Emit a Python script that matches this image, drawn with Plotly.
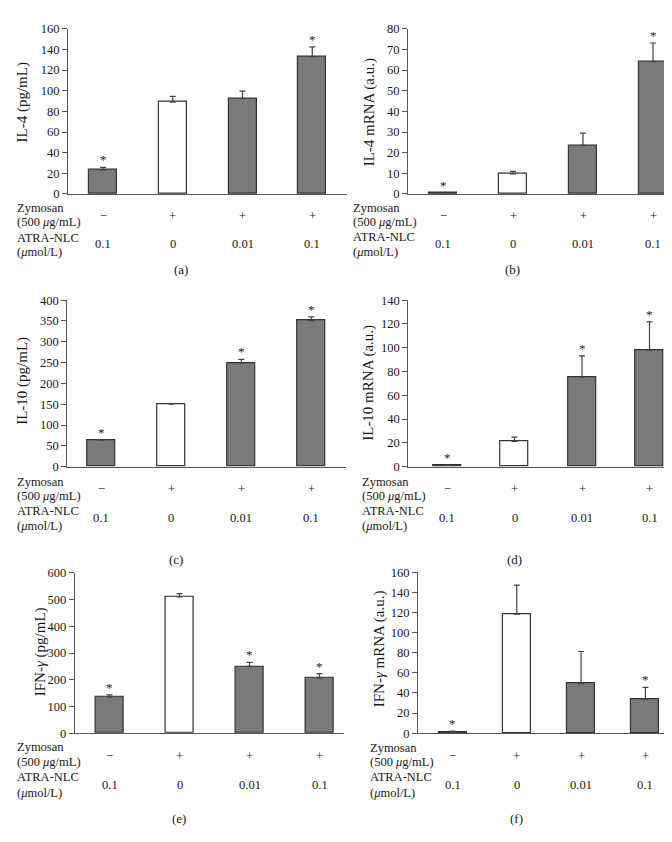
import plotly.graph_objects as go

# ---------------- data ----------------
zymosan_labels = ["\u2212", "+", "+", "+"]
atra_labels = ["0.1", "0", "0.01", "0.1"]
bar_colors = ["#7a7a7a", "#ffffff", "#7a7a7a", "#7a7a7a"]

il4_pg = [23.0, 89.0, 92.4, 132.7]
il4_pg_err = [2.7, 5.6, 7.3, 9.8]
il4_pg_star = [True, False, False, True]

il4_mrna = [0.5, 9.7, 23.5, 64.1]
il4_mrna_err = [0.2, 1.2, 6.0, 9.0]
il4_mrna_star = [True, False, False, True]

il10_pg = [64.5, 150.0, 249.5, 351.0]
il10_pg_err = [0.0, 1.5, 8.5, 9.0]
il10_pg_star = [True, False, True, True]

il10_mrna = [1.0, 21.2, 75.3, 97.8]
il10_mrna_err = [0.3, 3.6, 17.8, 24.0]
il10_mrna_star = [True, False, True, True]

ifn_pg = [134.7, 510.0, 250.0, 206.0]
ifn_pg_err = [8.8, 12.6, 15.0, 17.0]
ifn_pg_star = [True, False, True, True]

ifn_mrna = [1.0, 118.3, 49.2, 33.8]
ifn_mrna_err = [1.0, 29.0, 32.0, 11.8]
ifn_mrna_star = [True, False, False, True]

W, H = 672, 842
FONT = "Liberation Serif"
TXT = "#1a1718"
AX = "#555555"

def px(x):
    return x / W

def py(y):
    return 1 - y / H

panels = [
    dict(title="IL-4 (pg/mL)", v=il4_pg, e=il4_pg_err, s=il4_pg_star, ymax=160, dt=20, cap="(a)",
         xl=60, xr=339, c0=95, sp=69.75, yt=14, yb=182, tx=15, ty=89, rowx=7,
         rows=[196.7, 210.7, 226.7, 240.7], sign_y=204.3, val_y=233.3, cap_x=173, cap_y=258.3),
    dict(title="IL-4 mRNA (a.u.)", v=il4_mrna, e=il4_mrna_err, s=il4_mrna_star, ymax=80, dt=10, cap="(b)",
         xl=400, xr=663, c0=435, sp=70, yt=14, yb=182, tx=361, ty=99, rowx=343,
         rows=[196, 210.5, 225.5, 240.5], sign_y=204, val_y=233, cap_x=504, cap_y=258.3),
    dict(title="IL-10 (pg/mL)", v=il10_pg, e=il10_pg_err, s=il10_pg_star, ymax=400, dt=50, cap="(c)",
         xl=59.3, xr=338, c0=93.3, sp=70, yt=290, yb=459.3, tx=15, ty=372, rowx=7,
         rows=[474.5, 489, 504, 519.3], sign_y=481.7, val_y=511.7, cap_x=168, cap_y=553.3),
    dict(title="IL-10 mRNA (a.u.)", v=il10_mrna, e=il10_mrna_err, s=il10_mrna_star, ymax=140, dt=20, cap="(d)",
         xl=400.3, xr=663, c0=439, sp=67.5, yt=290, yb=459.3, tx=361, ty=374, rowx=352,
         rows=[474.5, 489, 504, 519.3], sign_y=481.7, val_y=511.7, cap_x=506.7, cap_y=553.3),
    dict(title="IFN-<i>\u03b3</i> (pg/mL)", v=ifn_pg, e=ifn_pg_err, s=ifn_pg_star, ymax=600, dt=100, cap="(e)",
         xl=66.7, xr=336, c0=101.5, sp=70, yt=567.3, yb=730.3, tx=32, ty=648, rowx=7,
         rows=[744.5, 759.5, 775, 790.7], sign_y=753.3, val_y=783.3, cap_x=170.7, cap_y=816.7),
    dict(title="IFN-<i>\u03b3</i> mRNA (a.u.)", v=ifn_mrna, e=ifn_mrna_err, s=ifn_mrna_star, ymax=160, dt=20, cap="(f)",
         xl=410, xr=656.7, c0=444.5, sp=64.3, yt=566.7, yb=730.3, tx=371, ty=645, rowx=360,
         rows=[745, 760, 775, 790.7], sign_y=753.3, val_y=783.3, cap_x=508.7, cap_y=816.7),
]

fig = go.Figure()
annotations = []
layout = {}
ROWF = 12.5

for i, p in enumerate(panels):
    n = i + 1
    xa = "xaxis" if n == 1 else f"xaxis{n}"
    ya = "yaxis" if n == 1 else f"yaxis{n}"
    xr_ = "x" if n == 1 else f"x{n}"
    yr_ = "y" if n == 1 else f"y{n}"
    cats = list(range(len(p["v"])))
    lo = (p["xl"] - p["c0"]) / p["sp"]
    hi = (p["xr"] - p["c0"]) / p["sp"]
    fig.add_trace(go.Bar(
        x=cats, y=p["v"], xaxis=xr_, yaxis=yr_,
        width=28 / p["sp"],
        marker=dict(color=bar_colors, line=dict(color="#333333", width=1.2)),
        error_y=dict(type="data", symmetric=False, array=p["e"], arrayminus=[0] * 4,
                     color="#444444", thickness=1.2, width=3),
        showlegend=False, hoverinfo="skip",
    ))
    layout[xa] = dict(domain=[px(p["xl"]), px(p["xr"])], range=[lo, hi], anchor=yr_,
                      showline=True, linecolor=AX, linewidth=1, ticks="", showticklabels=False,
                      showgrid=False, zeroline=False, fixedrange=True)
    layout[ya] = dict(domain=[py(p["yb"]), py(p["yt"])], range=[0, p["ymax"]], anchor=xr_,
                      dtick=p["dt"], tick0=0, showline=True, linecolor=AX, linewidth=1,
                      ticks="outside", ticklen=5, tickcolor=AX, tickwidth=1,
                      tickfont=dict(family=FONT, size=12.5, color=TXT),
                      showgrid=False, zeroline=False, fixedrange=True)
    annotations.append(dict(text=p["title"], x=px(p["tx"]), y=py(p["ty"]), xref="paper", yref="paper",
                            textangle=-90, showarrow=False, xanchor="center", yanchor="middle",
                            font=dict(family=FONT, size=15, color=TXT)))
    for c, (v, e, s) in enumerate(zip(p["v"], p["e"], p["s"])):
        if s:
            annotations.append(dict(text="*", x=c, y=v + e, xref=xr_, yref=yr_, showarrow=False,
                                    xanchor="center", yanchor="bottom", yshift=-2,
                                    font=dict(family=FONT, size=13, color=TXT)))
    row_texts = ["Zymosan", "(500 <i>\u03bc</i>g/mL)", "ATRA-NLC", "(<i>\u03bc</i>mol/L)"]
    for t, yy in zip(row_texts, p["rows"]):
        annotations.append(dict(text=t, x=px(p["rowx"]), y=py(yy), xref="paper", yref="paper",
                                showarrow=False, xanchor="left", yanchor="middle",
                                font=dict(family=FONT, size=ROWF, color=TXT)))
    for c in cats:
        annotations.append(dict(text=zymosan_labels[c], x=c, y=py(p["sign_y"]), xref=xr_, yref="paper",
                                showarrow=False, xanchor="center", yanchor="middle",
                                font=dict(family=FONT, size=ROWF, color=TXT)))
        annotations.append(dict(text=atra_labels[c], x=c, y=py(p["val_y"]), xref=xr_, yref="paper",
                                showarrow=False, xanchor="center", yanchor="middle",
                                font=dict(family=FONT, size=ROWF, color=TXT)))
    annotations.append(dict(text=p["cap"], x=px(p["cap_x"]), y=py(p["cap_y"]), xref="paper", yref="paper",
                            showarrow=False, xanchor="center", yanchor="middle",
                            font=dict(family=FONT, size=13, color=TXT)))

fig.update_layout(
    width=W, height=H, margin=dict(l=0, r=0, t=0, b=0),
    paper_bgcolor="white", plot_bgcolor="white",
    annotations=annotations, bargap=0, **layout,
)

fig.write_html("out.html")
